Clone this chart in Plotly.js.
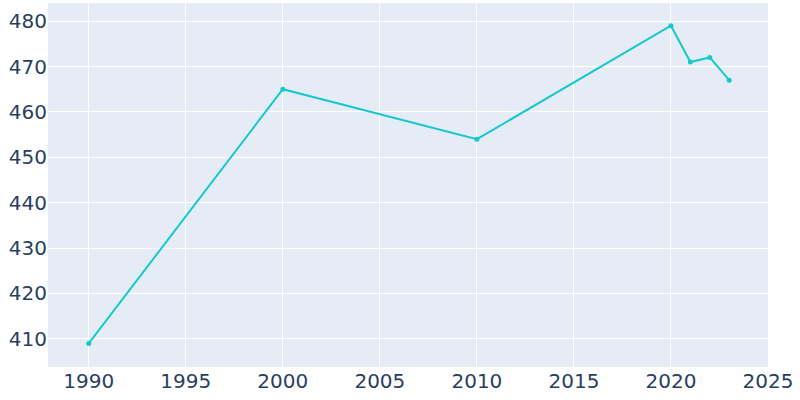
<!DOCTYPE html>
<html><head><meta charset="utf-8">
<script src="https://cdn.plot.ly/plotly-3.0.1.min.js"></script>
<style>html,body{margin:0;padding:0;background:#fff}</style>
</head><body>
<div id="chart" style="width:800px;height:400px"></div>
<script>
const years = [1990, 2000, 2010, 2020, 2021, 2022, 2023];
const population = [409, 465, 454, 479, 471, 472, 467];

Plotly.newPlot('chart', [{
  x: years, y: population, type: 'scatter', mode: 'lines+markers',
  line: {color: '#17c8cc', width: 2},
  marker: {color: '#17c8cc', size: 5},
  hoverinfo: 'x+y'
}], {
  width: 800, height: 400,
  margin: {l: 48, r: 32, t: 3, b: 33},
  paper_bgcolor: '#ffffff', plot_bgcolor: '#E5ECF6',
  font: {family: 'DejaVu Sans, sans-serif', size: 20, color: '#2a3f5f'},
  xaxis: {range: [1987.9, 2025], tickvals: [1990,1995,2000,2005,2010,2015,2020,2025],
          gridcolor: '#ffffff', gridwidth: 1, zeroline: false, showline: false, ticks: ''},
  yaxis: {range: [403.8, 484.0], tickvals: [410,420,430,440,450,460,470,480],
          gridcolor: '#ffffff', gridwidth: 1, zeroline: false, showline: false, ticks: ''},
  showlegend: false
}, {displayModeBar: false, staticPlot: true});
</script>
</body></html>
